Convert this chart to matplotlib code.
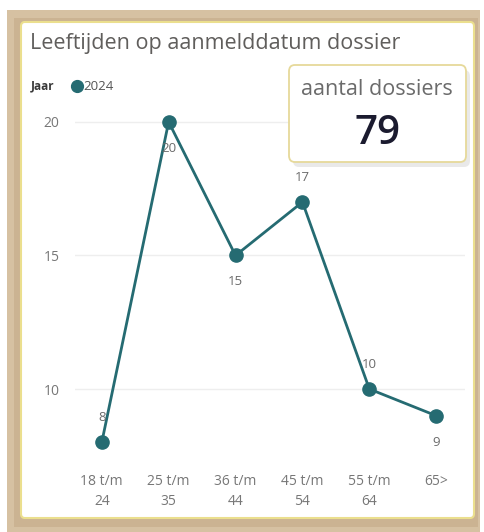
import matplotlib
matplotlib.use("Agg")
import matplotlib.pyplot as plt
from matplotlib.patches import FancyBboxPatch, Rectangle
from matplotlib.lines import Line2D

categories = ["18 t/m\n24", "25 t/m\n35", "36 t/m\n44", "45 t/m\n54", "55 t/m\n64", "65>"]
values = [8, 20, 15, 17, 10, 9]
label_above = [True, False, False, True, True, False]
yticks = [10, 15, 20]
total_dossiers = 79
series_name = "2024"

W, H = 485, 532
fig = plt.figure(figsize=(W / 100, H / 100), dpi=100)
fig.patch.set_facecolor("white")
plt.rcParams["font.family"] = ["Open Sans", "DejaVu Sans"]

def fx(px):
    return px / W

def fy(py):
    return 1 - py / H

# tan frame
fig.patches.append(Rectangle((fx(7), 0), fx(473), fy(10), transform=fig.transFigure,
                             facecolor="#d6c1a2", edgecolor="none", zorder=0))
fig.patches.append(Rectangle((fx(14), fy(527)), fx(464), fy(18) - fy(527), transform=fig.transFigure,
                             facecolor="#c2a784", edgecolor="none", zorder=0, alpha=0.5))
# white card
fig.patches.append(FancyBboxPatch((fx(21), fy(518)), fx(453), fy(22) - fy(518),
                                  boxstyle="round,pad=0,rounding_size=0.008",
                                  transform=fig.transFigure, facecolor="white",
                                  edgecolor="#ebdf8e", linewidth=1.5, zorder=1))

fig.text(fx(30), fy(44), "Leeftijden op aanmelddatum dossier", fontsize=15.5,
         color="#605e5c", va="center", ha="left", zorder=3)
fig.text(fx(31), fy(86), "Jaar", fontsize=8.5, color="#3a3a3a", va="center",
         ha="left", fontweight="bold", zorder=3)
fig.text(fx(83), fy(86), series_name, fontsize=9.5, color="#555555", va="center",
         ha="left", zorder=3)

line_color = "#256b72"
fig.add_artist(Line2D([fx(77)], [fy(86)], marker="o", color=line_color, markersize=8.5,
                      transform=fig.transFigure, zorder=3))

# axes
left, right, top, bottom = 75, 465, 100, 455
ax = fig.add_axes([fx(left), fy(bottom), fx(right - left), fy(top) - fy(bottom)])
ax.set_zorder(2)
ax.patch.set_alpha(0)
x = list(range(len(categories)))
ax.plot(x, values, color=line_color, linewidth=2, marker="o", markersize=9.5,
        clip_on=False, zorder=3)
ax.set_xlim(-0.4, 5.43)
ax.set_ylim(7.53, 20.82)
ax.set_yticks(yticks)
ax.set_yticklabels([str(t) for t in yticks])
ax.grid(axis="y", color="#eeeeee", linewidth=1)
ax.set_axisbelow(True)
for s in ax.spines.values():
    s.set_visible(False)
ax.tick_params(axis="both", length=0, colors="#777777", labelsize=10)
ax.tick_params(axis="y", pad=11)
ax.tick_params(axis="x", pad=14)
ax.set_xticks(x)
ax.set_xticklabels(categories, linespacing=1.45)
for xi, v, up in zip(x, values, label_above):
    ax.annotate(str(v), (xi, v), xytext=(0, 18 if up else -19), textcoords="offset points",
                ha="center", va="center", fontsize=9.5, color="#6b6b6b", zorder=4)

# card overlay
shadow = FancyBboxPatch((fx(293), fy(167)), fx(177), fy(65) - fy(162),
                        boxstyle="round,pad=0,rounding_size=0.012",
                        transform=fig.transFigure, facecolor="#d5d5d5",
                        edgecolor="none", alpha=0.5, zorder=4)
card = FancyBboxPatch((fx(289), fy(162)), fx(177), fy(65) - fy(162),
                      boxstyle="round,pad=0,rounding_size=0.012",
                      transform=fig.transFigure, facecolor="white",
                      edgecolor="#e6d99a", linewidth=1.3, zorder=5)
fig.patches.append(shadow)
fig.patches.append(card)
fig.text(fx(377), fy(89), "aantal dossiers", fontsize=15.5, color="#6b6b6b",
         ha="center", va="center", zorder=6)
fig.text(fx(378), fy(134), str(total_dossiers), fontsize=29, color="#1b1b2f",
         fontweight="semibold", ha="center", va="center", zorder=6)

fig.savefig("out.png", dpi=100)
